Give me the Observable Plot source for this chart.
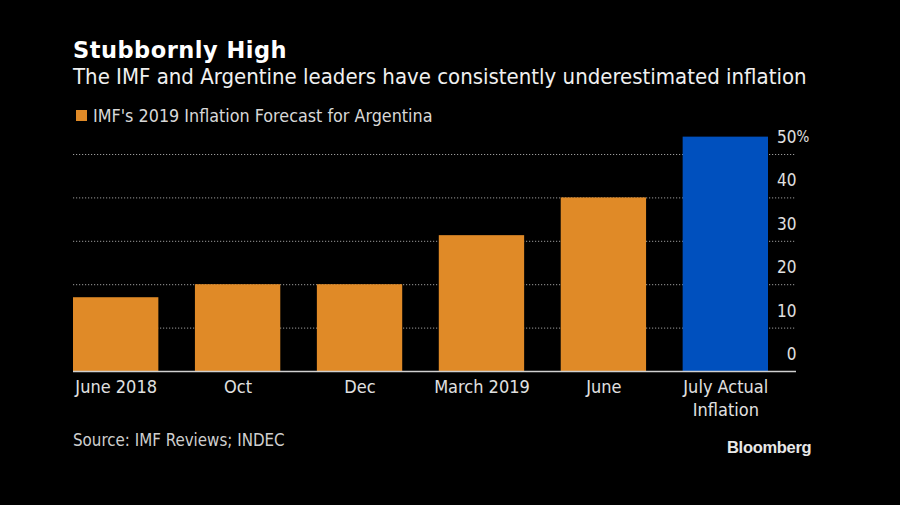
<!DOCTYPE html>
<html><head><meta charset="utf-8">
<script src="https://cdn.jsdelivr.net/npm/d3@7"></script>
<script src="https://cdn.jsdelivr.net/npm/@observablehq/plot@0.6"></script>
<style>
  html,body{margin:0;padding:0;background:#000;}
  #wrap{position:relative;width:900px;height:505px;background:#000;overflow:hidden;
    font-family:"DejaVu Sans Condensed","DejaVu Sans",sans-serif;font-stretch:condensed;color:#e6e6e6;}
  .abs{position:absolute;white-space:nowrap;}
  #title{left:73px;top:37px;font-size:22.5px;font-weight:bold;color:#fff;letter-spacing:0.5px;font-family:"DejaVu Sans","DejaVu Sans Condensed",sans-serif;font-stretch:normal;}
  #subtitle{left:73px;top:64px;font-size:22px;color:#f0f0f0;}
  #legend{left:76px;top:105px;font-size:17.8px;color:#d8d8d8;display:flex;align-items:center;}
  #legend .sw{width:11px;height:11px;background:#E08A27;margin-right:6px;}
  #chart{left:0;top:120px;}
  #source{left:73px;top:430px;font-size:16.8px;color:#cfcfcf;}
  #logo{left:727px;top:438px;font-size:16.5px;font-weight:bold;color:#e8e8e8;font-family:"Liberation Sans Narrow","Liberation Sans",Arial,sans-serif;letter-spacing:-0.3px;}
</style>
</head><body>
<div id="wrap">
  <div id="title" class="abs">Stubbornly High</div>
  <div id="subtitle" class="abs">The IMF and Argentine leaders have consistently underestimated inflation</div>
  <div id="legend" class="abs"><span class="sw"></span><span>IMF's 2019 Inflation Forecast for Argentina</span></div>
  <div id="chart" class="abs"></div>
  <div id="source" class="abs">Source: IMF Reviews; INDEC</div>
  <div id="logo" class="abs">Bloomberg</div>
</div>
<script>
const categories = ["June 2018", "Oct", "Dec", "March 2019", "June", "July Actual\nInflation"];
const values = [17, 20, 20, 31.3, 40, 54];
const kinds = ["forecast", "forecast", "forecast", "forecast", "forecast", "actual"];
const yTicks = [0, 10, 20, 30, 40, 50];

const data = categories.map((c, i) => ({cat: c, value: values[i], kind: kinds[i]}));

const fontFam = '"DejaVu Sans Condensed","DejaVu Sans",sans-serif';

const chart = Plot.plot({
  width: 900,
  height: 310,
  marginLeft: 73,
  marginRight: 104,
  marginTop: 0,
  marginBottom: 59,
  style: {background: "transparent", color: "#e0e0e0", fontFamily: fontFam},
  x: {domain: categories, range: [73, 768], paddingInner: 0.3, paddingOuter: 0, round: false, axis: null},
  y: {domain: [0, 50], range: [251, 34], axis: null},
  color: {domain: ["forecast", "actual"], range: ["#E08A27", "#0050BE"]},
  marks: [
    Plot.ruleY(yTicks.filter(d => d > 0), {stroke: "#9a9a9a", strokeWidth: 1, strokeDasharray: "1.2,1.8"}),
    Plot.barY(data, {x: "cat", y: "value", fill: "kind"}),
    Plot.ruleY([0], {stroke: "#d0d0d0", strokeWidth: 1.5}),
    Plot.text(yTicks, {y: d => d, frameAnchor: "right", textAnchor: "end", dy: -17, text: d => String(d), fill: "#e0e0e0", fontSize: 17}),
    Plot.text([50], {y: d => d, frameAnchor: "right", textAnchor: "start", dx: 0, dy: -17, text: () => "%", fill: "#e0e0e0", fontSize: 15}),
    Plot.text(data, {x: "cat", y: 0, text: "cat", lineAnchor: "top", dy: 5, fill: "#e0e0e0", fontSize: 18, lineHeight: 1.28})
  ]
});
document.getElementById("chart").appendChild(chart);
</script>
</body></html>
